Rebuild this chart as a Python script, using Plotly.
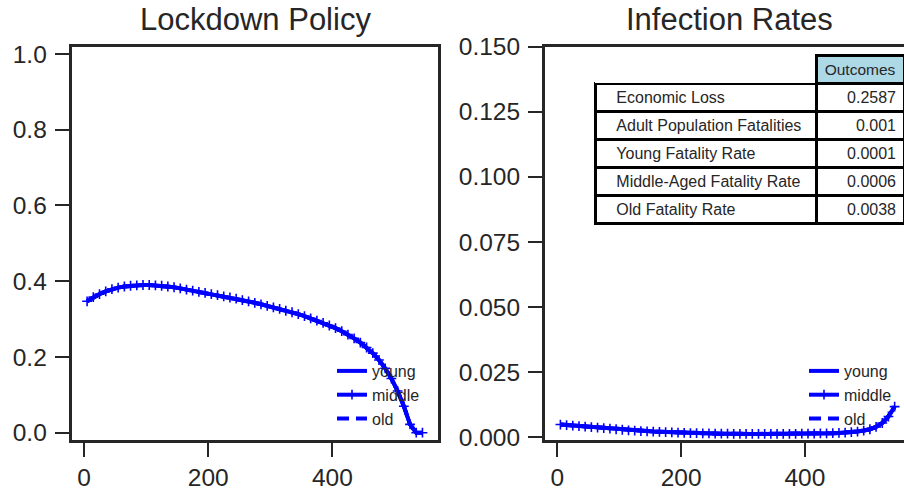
import plotly.graph_objects as go

# ---------------- data ----------------
days = [5, 15, 25, 35, 45, 55, 65, 75, 85, 95, 105, 115, 125, 135, 145, 155, 165,
        175, 185, 195, 205, 215, 225, 235, 245, 255, 265, 275, 285, 295, 305, 315,
        325, 335, 345, 355, 365, 375, 385, 395, 405, 415, 425, 435, 445, 455, 465,
        475, 485, 495, 505, 515, 525, 535, 545]

lockdown = [0.347, 0.358, 0.366, 0.373, 0.379, 0.383, 0.386, 0.388, 0.389, 0.390,
            0.390, 0.389, 0.388, 0.386, 0.384, 0.381, 0.378, 0.375, 0.372, 0.369,
            0.366, 0.363, 0.360, 0.357, 0.354, 0.350, 0.347, 0.343, 0.339, 0.335,
            0.331, 0.327, 0.322, 0.318, 0.313, 0.308, 0.302, 0.296, 0.290, 0.283,
            0.276, 0.268, 0.259, 0.249, 0.238, 0.225, 0.210, 0.192, 0.170, 0.143,
            0.110, 0.070, 0.022, 0.0, 0.0]

infection = [0.0049, 0.0047, 0.0045, 0.0043, 0.0041, 0.0039, 0.0037, 0.0035, 0.0033,
             0.0031, 0.0029, 0.0027, 0.0026, 0.0024, 0.0023, 0.0022, 0.0021, 0.0020,
             0.0019, 0.0018, 0.0017, 0.0016, 0.0016, 0.0015, 0.0015, 0.0014, 0.0014,
             0.0014, 0.0013, 0.0013, 0.0013, 0.0013, 0.0013, 0.0013, 0.0013, 0.0013,
             0.0013, 0.0013, 0.0013, 0.0014, 0.0014, 0.0014, 0.0015, 0.0015, 0.0016,
             0.0017, 0.0018, 0.0020, 0.0022, 0.0026, 0.0031, 0.0040, 0.0055, 0.0080,
             0.0118]

groups = ["young", "middle", "old"]

outcome_labels = ["Economic Loss", "Adult Population Fatalities", "Young Fatality Rate",
                  "Middle-Aged Fatality Rate", "Old Fatality Rate"]
outcome_values = ["0.2587", "0.001", "0.0001", "0.0006", "0.0038"]
table_header = ["", "Outcomes"]

x_ticks = [0, 200, 400]
left_y_ticks = [0.0, 0.2, 0.4, 0.6, 0.8, 1.0]
right_y_ticks = [0.0, 0.025, 0.05, 0.075, 0.1, 0.125, 0.15]

# ---------------- figure ----------------
W, H = 904, 491
TXT = "#262626"
BLUE = "#0000ff"
FONT = "Liberation Sans, Arial, sans-serif"

fig = go.Figure()

styles = {
    "young": dict(mode="lines", line=dict(color=BLUE, width=4)),
    "middle": dict(mode="lines+markers", line=dict(color=BLUE, width=4),
                   marker=dict(symbol="cross-thin", size=7, color=BLUE,
                               line=dict(color=BLUE, width=1.6))),
    "old": dict(mode="lines", line=dict(color=BLUE, width=4, dash="12px,7px")),
}

for g in groups:
    fig.add_trace(go.Scatter(x=days, y=lockdown, name=g, xaxis="x", yaxis="y",
                             legend="legend", **styles[g]))
for g in groups:
    fig.add_trace(go.Scatter(x=days, y=infection, name=g, xaxis="x2", yaxis="y2",
                             legend="legend2", **styles[g]))

fig.add_trace(go.Table(
    domain=dict(x=[595 / W, 1.0], y=[1 - 232 / H, 1 - 55 / H]),
    columnwidth=[221, 88],
    header=dict(values=table_header,
                fill=dict(color=["white", "#add8e6"]),
                line=dict(color=["rgba(0,0,0,0)", "black"], width=3),
                align=["left", "center"],
                font=dict(family=FONT, size=15.5, color=TXT),
                height=28),
    cells=dict(values=[["\u00a0\u00a0\u00a0" + s for s in outcome_labels], outcome_values],
               fill=dict(color="white"),
               line=dict(color="black", width=3),
               align=["left", "right"],
               font=dict(family=FONT, size=16, color=TXT),
               height=28),
))

axis_common = dict(showline=True, linecolor=TXT, linewidth=3, ticks="outside",
                   ticklen=14, tickwidth=2, tickcolor=TXT, showgrid=False,
                   zeroline=False, automargin=False,
                   tickfont=dict(family=FONT, size=24.5, color=TXT))

ytop, ybot = 46.5, 439.5
fig.update_layout(
    width=W, height=H,
    margin=dict(l=0, r=0, t=0, b=0, autoexpand=False),
    paper_bgcolor="white", plot_bgcolor="white",
    font=dict(family=FONT, color=TXT),
    xaxis=dict(domain=[71.7 / W, 438.3 / W], range=[-19.8, 570.5], anchor="y",
               tickvals=x_ticks, mirror=True, **axis_common),
    yaxis=dict(domain=[1 - ybot / H, 1 - ytop / H], range=[-0.018, 1.0198], anchor="x",
               tickvals=left_y_ticks, tickformat=".1f", mirror=True,
               ticklabelstandoff=3, **axis_common),
    xaxis2=dict(domain=[545 / W, 1.0], range=[-19.9, 560.1], anchor="y2",
                tickvals=x_ticks, mirror=True, **axis_common),
    yaxis2=dict(domain=[1 - ybot / H, 1 - ytop / H], range=[-0.00084, 0.15008], anchor="x2",
                tickvals=right_y_ticks, tickformat=".3f", mirror=False,
                ticklabelstandoff=3, **axis_common),
    legend=dict(x=332 / W, y=1 - 354 / H, xanchor="left", yanchor="top",
                bgcolor="rgba(0,0,0,0)", font=dict(family=FONT, size=16, color=TXT)),
    legend2=dict(x=804 / W, y=1 - 354 / H, xanchor="left", yanchor="top",
                 bgcolor="rgba(0,0,0,0)", font=dict(family=FONT, size=16, color=TXT)),
    annotations=[
        dict(text="Lockdown Policy", x=255 / W, y=1 - 20 / H, xref="paper", yref="paper",
             xanchor="center", yanchor="middle", showarrow=False,
             font=dict(family=FONT, size=31, color=TXT)),
        dict(text="Infection Rates", x=729 / W, y=1 - 20 / H, xref="paper", yref="paper",
             xanchor="center", yanchor="middle", showarrow=False,
             font=dict(family=FONT, size=31, color=TXT)),
    ],
)

fig.write_html("out.html")
